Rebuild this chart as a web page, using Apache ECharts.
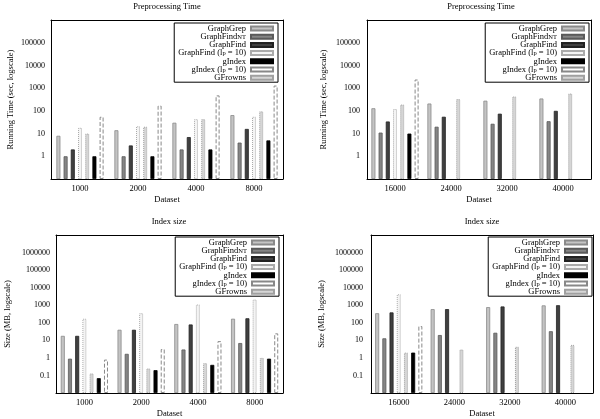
<!DOCTYPE html>
<html><head><meta charset="utf-8">
<script src="https://cdn.jsdelivr.net/npm/echarts@6/dist/echarts.min.js"></script>
<style>html,body{margin:0;padding:0;background:#fff}#c{width:600px;height:419px}</style>
</head><body><div id="c"></div>
<script>
// ---- categories ----
const catsSmall = ['1000', '2000', '4000', '8000'];
const catsLarge = ['16000', '24000', '32000', '40000'];

// ---- series names (bar order) and legend order ----
const seriesNames = ['GraphGrep', 'GraphFindNT', 'GraphFind', 'GraphFind (lp = 10)', 'GFrowns', 'gIndex', 'gIndex (lp = 10)'];
const legendOrder = ['GraphGrep', 'GraphFindNT', 'GraphFind', 'GraphFind (lp = 10)', 'gIndex', 'gIndex (lp = 10)', 'GFrowns'];

// ---- Preprocessing time (sec), datasets 1000..8000 ----
const timeSmallGraphGrep   = [8, 14, 30, 65];
const timeSmallGraphFindNT = [1, 1, 2, 4];
const timeSmallGraphFind   = [2, 3, 7, 16];
const timeSmallGraphFindLp = [18, 21, 43, 55];
const timeSmallGFrowns     = [10, 20, 43, 95];
const timeSmallGIndex      = [1, 1, 2, 5];
const timeSmallGIndexLp    = [55, 170, 480, 1300];

// ---- Preprocessing time (sec), datasets 16000..40000 ----
const timeLargeGraphGrep   = [130, 210, 280, 350];
const timeLargeGraphFindNT = [11, 20, 27, 35];
const timeLargeGraphFind   = [34, 55, 75, 100];
const timeLargeGraphFindLp = [120, null, null, null];
const timeLargeGFrowns     = [190, 330, 430, 580];
const timeLargeGIndex      = [10, null, null, null];
const timeLargeGIndexLp    = [2400, null, null, null];

// ---- Index size (MB), datasets 1000..8000 ----
const sizeSmallGraphGrep   = [18, 40, 85, 170];
const sizeSmallGraphFindNT = [0.9, 1.7, 3, 7];
const sizeSmallGraphFind   = [18, 40, 80, 180];
const sizeSmallGraphFindLp = [170, 350, 1100, 2100];
const sizeSmallGFrowns     = [0.13, 0.25, 0.5, 1];
const sizeSmallGIndex      = [0.07, 0.2, 0.4, 0.9];
const sizeSmallGIndexLp    = [0.8, 3.2, 9, 25];

// ---- Index size (MB), datasets 16000..40000 ----
const sizeLargeGraphGrep   = [350, 600, 780, 980];
const sizeLargeGraphFindNT = [13, 20, 27, 33];
const sizeLargeGraphFind   = [390, 600, 850, 1000];
const sizeLargeGraphFindLp = [4200, null, null, null];
const sizeLargeGFrowns     = [2, 3, 4.3, 5.5];
const sizeLargeGIndex      = [2, null, null, null];
const sizeLargeGIndexLp    = [65, null, null, null];

// ---- axis tick label ranges ----
const timeTicks = [1, 10, 100, 1000, 10000, 100000];
const sizeTicks = [0.1, 1, 10, 100, 1000, 10000, 100000, 1000000];

const FONT = 'Liberation Serif';

const styles = [
  {color: '#c4c4c4', borderColor: '#8a8a8a', borderWidth: 0.8},
  {color: '#858585', borderColor: '#5a5a5a', borderWidth: 0.8},
  {color: '#404040', borderColor: '#222222', borderWidth: 0.8},
  {color: '#f4f4f4', borderColor: '#aaaaaa', borderWidth: 1, borderType: 'dotted'},
  {color: '#d6d6d6', borderColor: '#a0a0a0', borderWidth: 1, borderType: 'dotted'},
  {color: '#000000', borderColor: '#000000', borderWidth: 0.8},
  {color: '#ffffff', borderColor: '#888888', borderWidth: 1, borderType: 'dashed'}
];

const panels = [
  {title: 'Preprocessing Time', cats: catsSmall, yName: 'Running Time (sec, logscale)',
   data: [timeSmallGraphGrep, timeSmallGraphFindNT, timeSmallGraphFind, timeSmallGraphFindLp, timeSmallGFrowns, timeSmallGIndex, timeSmallGIndexLp],
   ticks: timeTicks, min: 0.1, max: 1000000,
   grid: {left: 51, right: 317, top: 20, bottom: 240}, titleX: 167, titleY: 2,
   yNameGap: 36, yLabelMargin: 6, legend: {right: 322, top: 23}},
  {title: 'Preprocessing Time', cats: catsLarge, yName: 'Running Time (sec, logscale)',
   data: [timeLargeGraphGrep, timeLargeGraphFindNT, timeLargeGraphFind, timeLargeGraphFindLp, timeLargeGFrowns, timeLargeGIndex, timeLargeGIndexLp],
   ticks: timeTicks, min: 0.1, max: 1000000,
   grid: {left: 367, right: 9, top: 20, bottom: 240}, titleX: 481, titleY: 2,
   yNameGap: 39, yLabelMargin: 7, legend: {right: 11, top: 23}},
  {title: 'Index size', cats: catsSmall, yName: 'Size (MB, logscale)',
   data: [sizeSmallGraphGrep, sizeSmallGraphFindNT, sizeSmallGraphFind, sizeSmallGraphFindLp, sizeSmallGFrowns, sizeSmallGIndex, sizeSmallGIndexLp],
   ticks: sizeTicks, min: 0.01, max: 10000000,
   grid: {left: 56, right: 317, top: 235, bottom: 25}, titleX: 169, titleY: 217,
   yNameGap: 44, yLabelMargin: 6, legend: {right: 321, top: 237}},
  {title: 'Index size', cats: catsLarge, yName: 'Size (MB, logscale)',
   data: [sizeLargeGraphGrep, sizeLargeGraphFindNT, sizeLargeGraphFind, sizeLargeGraphFindLp, sizeLargeGFrowns, sizeLargeGIndex, sizeLargeGIndexLp],
   ticks: sizeTicks, min: 0.01, max: 10000000,
   grid: {left: 371, right: 7, top: 235, bottom: 25}, titleX: 482, titleY: 217,
   yNameGap: 45, yLabelMargin: 8, legend: {right: 8, top: 237}}
];

function legendText(name) {
  if (name === 'GraphFindNT') return 'GraphFind{sub|NT}';
  if (name === 'GraphFind (lp = 10)') return 'GraphFind (l{sub|p} = 10)';
  if (name === 'gIndex (lp = 10)') return 'gIndex (l{sub|p} = 10)';
  return name;
}

const option = {
  animation: false,
  backgroundColor: '#ffffff',
  title: [], grid: [], xAxis: [], yAxis: [], legend: [], series: []
};

panels.forEach((p, i) => {
  option.title.push({text: p.title, left: p.titleX, top: p.titleY, textAlign: 'center', padding: 0,
    textStyle: {fontFamily: FONT, fontSize: 8.5, fontWeight: 'normal', color: '#000'}});
  option.grid.push(Object.assign({containLabel: false}, p.grid));
  const lo = p.ticks[0], hi = p.ticks[p.ticks.length - 1];
  const axLine = {show: true, lineStyle: {color: '#000', width: 1}};
  option.xAxis.push({gridIndex: i, type: 'category', data: p.cats, position: 'bottom',
    axisLine: axLine, axisTick: {inside: true, alignWithLabel: true, length: 4, lineStyle: {color: '#000'}},
    axisLabel: {fontFamily: FONT, fontSize: 8.5, color: '#000', margin: 5},
    name: 'Dataset', nameLocation: 'middle', nameGap: 16,
    nameTextStyle: {fontFamily: FONT, fontSize: 8.5, color: '#000'}});
  option.xAxis.push({gridIndex: i, type: 'category', data: p.cats, position: 'top',
    axisLine: axLine, axisTick: {inside: true, alignWithLabel: true, length: 4, lineStyle: {color: '#000'}},
    axisLabel: {show: false}});
  option.yAxis.push({gridIndex: i, type: 'log', logBase: 10, min: p.min, max: p.max, startValue: p.min, position: 'left',
    axisLine: axLine, axisTick: {inside: true, length: 4, lineStyle: {color: '#000'}}, splitLine: {show: false},
    axisLabel: {fontFamily: FONT, fontSize: 8, color: '#000', margin: p.yLabelMargin,
      formatter: v => (v >= lo * 0.99 && v <= hi * 1.01) ? String(v >= 1 ? Math.round(v) : +v.toPrecision(3)) : ''},
    name: p.yName, nameLocation: 'middle', nameGap: p.yNameGap,
    nameTextStyle: {fontFamily: FONT, fontSize: 8.5, color: '#000'}});
  option.yAxis.push({gridIndex: i, type: 'log', logBase: 10, min: p.min, max: p.max, position: 'right',
    axisLine: axLine, axisTick: {inside: true, length: 4, lineStyle: {color: '#000'}}, splitLine: {show: false},
    axisLabel: {show: false}});
  option.legend.push({orient: 'vertical', align: 'right', right: p.legend.right, top: p.legend.top,
    data: legendOrder, icon: 'rect', itemWidth: 22, itemHeight: 4, itemGap: -0.8,
    padding: [1, 4, 0, 4], borderColor: '#000', borderWidth: 1, selectedMode: false,
    formatter: legendText,
    textStyle: {fontFamily: FONT, fontSize: 8.5, lineHeight: 8, color: '#000',
      rich: {sub: {fontFamily: FONT, fontSize: 6.5, lineHeight: 8, verticalAlign: 'bottom', color: '#000'}}}});
  seriesNames.forEach((n, k) => {
    option.series.push({type: 'bar', name: n, xAxisIndex: i * 2, yAxisIndex: i * 2,
      data: p.data[k], barWidth: 4, barGap: '80%', itemStyle: styles[k]});
  });
});

const chart = echarts.init(document.getElementById('c'), null, {renderer: 'canvas'});
chart.setOption(option);
</script></body></html>
